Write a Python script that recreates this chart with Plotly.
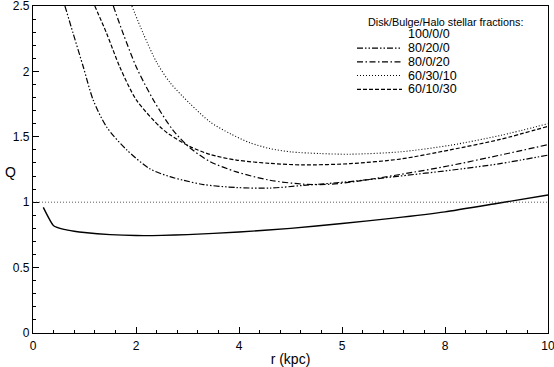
import plotly.graph_objects as go

# ---------------- data ----------------
r_100_0_0 = [0.2, 0.4, 0.6, 0.8, 1.0, 1.5, 2.0, 2.5, 3.0, 4.0, 5.0, 6.0, 7.0, 8.0, 9.0, 10.0]
Q_100_0_0 = [0.96, 0.82, 0.792, 0.778, 0.768, 0.752, 0.745, 0.746, 0.752, 0.772, 0.80, 0.837, 0.878, 0.926, 0.99, 1.055]

r_80_20_0 = [0.62, 0.78, 0.98, 1.17, 1.43, 1.82, 2.27, 2.66, 2.92, 3.31, 3.95, 4.6, 5.24, 6.16, 7.13, 8.1, 9.07, 10.0]
Q_80_20_0 = [2.5, 2.29, 2.03, 1.78, 1.575, 1.40, 1.255, 1.195, 1.168, 1.135, 1.112, 1.108, 1.128, 1.158, 1.20, 1.244, 1.295, 1.36]

r_80_0_20 = [1.56, 1.75, 2.01, 2.34, 2.72, 3.05, 3.44, 3.95, 4.6, 5.24, 5.7, 6.16, 7.13, 8.1, 9.07, 10.0]
Q_80_0_20 = [2.5, 2.29, 2.03, 1.78, 1.55, 1.415, 1.31, 1.232, 1.168, 1.138, 1.136, 1.153, 1.212, 1.28, 1.36, 1.44]

r_60_30_10 = [1.92, 2.14, 2.40, 2.66, 3.05, 3.44, 3.83, 4.21, 4.6, 5.0, 5.57, 6.16, 7.13, 8.1, 9.07, 10.0]
Q_60_30_10 = [2.5, 2.29, 2.07, 1.915, 1.753, 1.613, 1.524, 1.455, 1.41, 1.385, 1.372, 1.367, 1.385, 1.435, 1.51, 1.60]

r_60_10_30 = [1.2, 1.43, 1.69, 2.01, 2.47, 2.66, 3.05, 3.44, 3.95, 4.6, 5.24, 6.16, 7.13, 8.1, 9.07, 10.0]
Q_60_10_30 = [2.5, 2.29, 2.03, 1.78, 1.575, 1.515, 1.425, 1.365, 1.322, 1.297, 1.285, 1.295, 1.33, 1.40, 1.48, 1.58]

legend_title = "Disk/Bulge/Halo stellar fractions:"
labels = ["100/0/0", "80/20/0", "80/0/20", "60/30/10", "60/10/30"]
x_ticks = [0, 2, 4, 6, 8, 10]
x_ticktext = ["0", "2", "4", "5", "8", "10"]
Q_ref = 1.0

# ---------------- styling ----------------
FONT = "Liberation Sans, Arial, Helvetica, sans-serif"
W, H = 554, 367
L, R, T, B = 33, 548, 6, 333  # plot area in pixels

series = [
    (r_100_0_0, Q_100_0_0, "solid", 1.4, 0.5),
    (r_80_20_0, Q_80_20_0, "6px,2px,1.5px,2px,1.5px,2px", 1.2, 0.8),
    (r_80_0_20, Q_80_0_20, "6px,2.5px,1.5px,2.5px", 1.2, 0.8),
    (r_60_30_10, Q_60_30_10, "1px,2px", 1.1, 0.8),
    (r_60_10_30, Q_60_10_30, "4px,2px", 1.2, 0.8),
]

fig = go.Figure()
for (rx, qy, dash, w, sm), name in zip(series, labels):
    fig.add_trace(go.Scatter(x=rx, y=qy, mode="lines", name=name, showlegend=False,
                             line=dict(color="black", width=w, dash=dash, shape="spline", smoothing=sm)))

# reference Q = 1 line
fig.add_hline(y=Q_ref, line=dict(color="#333333", width=0.8, dash="1px,2px"))

def px2paper_x(px):
    return (px - L) / (R - L)

def px2paper_y(py):
    return (B - py) / (B - T)

annotations = [
    dict(text=legend_title, x=px2paper_x(366), y=px2paper_y(21.7), xref="paper", yref="paper",
         xanchor="left", yanchor="middle", showarrow=False, font=dict(family=FONT, size=10.8, color="black")),
    dict(text="Q", x=px2paper_x(10), y=px2paper_y(172), xref="paper", yref="paper",
         xanchor="center", yanchor="middle", showarrow=False, font=dict(family=FONT, size=14, color="black")),
]
shapes = []
for i, ((rx, qy, dash, w, sm), name) in enumerate(zip(series, labels)):
    yc = 34.3 + 13.75 * i
    shapes.append(dict(type="line", xref="paper", yref="paper",
                       x0=px2paper_x(357), x1=px2paper_x(402), y0=px2paper_y(yc), y1=px2paper_y(yc),
                       line=dict(color="black", width=w, dash=dash)))
    annotations.append(dict(text=name, x=px2paper_x(406), y=px2paper_y(yc), xref="paper", yref="paper",
                            xanchor="left", yanchor="middle", showarrow=False,
                            font=dict(family=FONT, size=12.5, color="black")))

axis_common = dict(showline=True, linecolor="black", linewidth=1.3, mirror=True, automargin=False,
                   ticklabeloverflow="allow",
                   showgrid=False, zeroline=False, ticks="inside", ticklen=6, tickwidth=1,
                   tickcolor="black", tickfont=dict(family=FONT, size=12, color="black"))

fig.update_layout(
    width=W, height=H,
    margin=dict(l=L, r=W - R, t=T, b=H - B, autoexpand=False),
    paper_bgcolor="white", plot_bgcolor="white",
    font=dict(family=FONT, color="black"),
    showlegend=False,
    xaxis=dict(range=[0, 10], tickmode="array", tickvals=x_ticks, ticktext=x_ticktext,
               minor=dict(dtick=0.4, tick0=0, ticks="inside", ticklen=3, tickcolor="black", tickwidth=1),
               title=dict(text="r (kpc)", font=dict(family=FONT, size=14, color="black"), standoff=2),
               ticklabelstandoff=1,
               **axis_common),
    yaxis=dict(range=[0, 2.5], dtick=0.5, tick0=0,
               minor=dict(dtick=0.1, tick0=0, ticks="inside", ticklen=3, tickcolor="black", tickwidth=1),
               **axis_common),
    annotations=annotations,
    shapes=shapes,
)

fig.write_html("out.html", config={"displayModeBar": False},
               post_script="document.body.style.margin='0';document.body.style.overflow='hidden';")
